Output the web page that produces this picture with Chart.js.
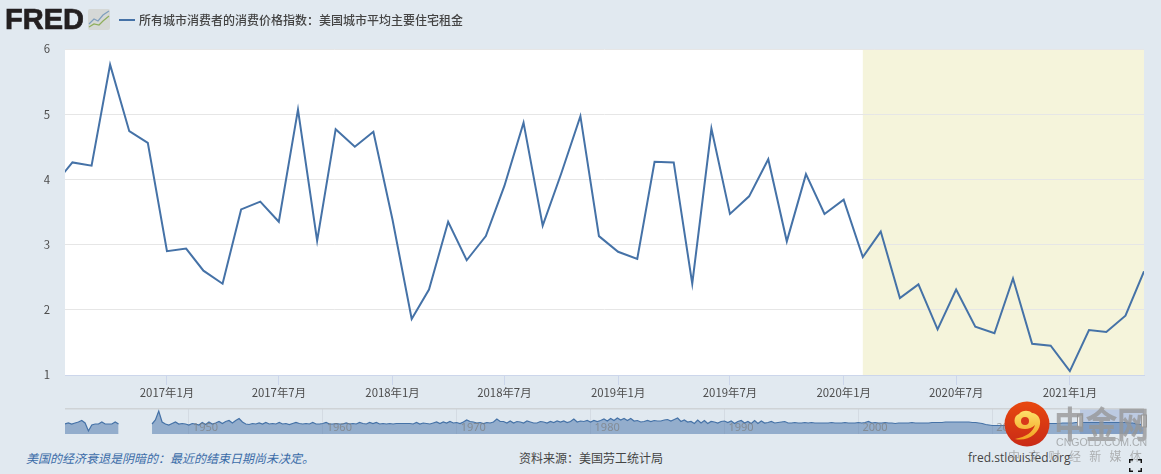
<!DOCTYPE html>
<html lang="zh">
<head>
    <meta charset="UTF-8">
    <title>所有城市消费者的消费价格指数：美国城市平均主要住宅租金</title>
    <script src="https://cdn.jsdelivr.net/npm/chart.js"></script>
    <style>
        html, body { margin: 0; padding: 0; }
        body {
            width: 1161px; height: 474px; overflow: hidden; position: relative;
            background: #e1e9f0;
            font-family: "Noto Sans CJK SC", "Noto Sans", sans-serif;
            font-size: 12px; color: #555;
        }
        canvas { position: absolute; left: 0; display: block; }
        #mainChart { top: 0; }
        #navChart { top: 405px; }
        .abs { position: absolute; white-space: nowrap; line-height: 16px; }
        .logo { left: 5px; top: 3px; font: bold 29px/33px "Liberation Sans", sans-serif; color: #231f20; -webkit-text-stroke: 0.7px #231f20; }
        .legend-key { left: 119px; top: 19px; width: 16px; height: 2px; background: #4572a7; }
        .legend-text { left: 139px; top: 12px; color: #444; font-weight: 500; }
        .recession { left: 26px; top: 450px; font-style: italic; color: #3b6ca8; }
        .source { left: 519px; top: 450px; color: #444; }
        .site { left: 968px; top: 450px; color: #444; font-family: "Open Sans", sans-serif; font-size: 12px; }
        .wm-big { left: 1054px; top: 399px; font: bold 32px/40px "Noto Sans CJK SC", sans-serif; color: rgba(150,150,150,0.78); letter-spacing: -0.5px; transform: scaleY(1.15); transform-origin: top; }
        .wm-en { left: 1056px; top: 435px; font: 10.6px/14px "Liberation Sans", sans-serif; color: #a9adb0; }
        .wm-cn { left: 1008px; top: 448px; font-size: 12px; color: rgba(150,150,150,0.7); letter-spacing: 8.3px; }
    </style>
</head>
<body>
    <canvas id="mainChart" width="1161" height="405"></canvas>
    <canvas id="navChart" width="1161" height="30"></canvas>

    <div class="abs logo">FRED</div>
    <svg class="abs" style="left:88px;top:9px" width="23" height="22">
        <rect width="22" height="21" rx="2" fill="#d5d8d6"/>
        <polyline points="1,15 6,10 10,12 15,6 21,2" fill="none" stroke="#7f9fbd" stroke-width="1.2"/>
        <polyline points="1,18 6,15 11,16 15,12 21,7" fill="none" stroke="#8fae5c" stroke-width="1.2"/>
    </svg>
    <div class="abs legend-key"></div>
    <div class="abs legend-text">所有城市消费者的消费价格指数：美国城市平均主要住宅租金</div>

    <div class="abs recession">美国的经济衰退是阴暗的：最近的结束日期尚未决定。</div>
    <div class="abs source">资料来源：美国劳工统计局</div>
    <div class="abs site">fred.stlouisfed.org</div>

    <!-- watermark -->
    <svg class="abs" style="left:1004px;top:401px" width="46" height="46">
        <defs>
            <linearGradient id="wmRed" x1="0" y1="0" x2="0" y2="1">
                <stop offset="0" stop-color="#e8480f"/>
                <stop offset="1" stop-color="#c92a17"/>
            </linearGradient>
            <linearGradient id="wmGold" x1="0" y1="0" x2="0" y2="1">
                <stop offset="0" stop-color="#fde06a"/>
                <stop offset="1" stop-color="#f3a21f"/>
            </linearGradient>
        </defs>
        <circle cx="23" cy="23" r="22.5" fill="url(#wmRed)"/>
        <path d="M11 38 C22 36 29 31 31 24 C27 28 21 29 15 27 C9 24 9 15 15 13 C18 9 25 9 28 12 C33 12 37 17 36 23 C35 32 24 41 11 38 Z" fill="url(#wmGold)"/>
        <circle cx="21" cy="20" r="4" fill="#d8391a"/>
    </svg>
    <div class="abs wm-big">中金网</div>
    <div class="abs wm-en">CNGOLD.COM.CN</div>
    <div class="abs wm-cn">中文财经新媒体</div>

    <svg class="abs" style="left:1129px;top:459px" width="13" height="13" fill="none" stroke="#111" stroke-width="1.5">
        <path d="M0.7 4V0.7H4M9 0.7H12.3V4M12.3 9V12.3H9M4 12.3H0.7V9"/>
    </svg>

    <script>
        // monthly values, first one is 2016年7月 (off the left edge, line runs in from it)
        const startYear = 2016;
        const startMonth = 6;
        const rentChange = [
            3.90, 4.26, 4.21, 5.76, 4.74, 4.56,
            2.90, 2.94, 2.60, 2.40, 3.54, 3.66, 3.35, 5.07, 3.06, 4.77, 4.50, 4.73,
            3.38, 1.86, 2.31, 3.35, 2.76, 3.13, 3.90, 4.87, 3.29, 4.09, 4.97, 3.13,
            2.89, 2.78, 4.27, 4.26, 2.40, 4.78, 3.47, 3.74, 4.31, 3.05, 4.08, 3.47,
            3.69, 2.81, 3.20, 2.18, 2.39, 1.70, 2.31, 1.74, 1.64, 2.48, 1.48, 1.45,
            1.06, 1.69, 1.66, 1.91, 2.59
        ];
        const tickMonths = ['2017-01-01', '2017-07-01', '2018-01-01', '2018-07-01', '2019-01-01', '2019-07-01', '2020-01-01', '2020-07-01', '2021-01-01'];
        const tickLabels = ['2017年1月', '2017年7月', '2018年1月', '2018年7月', '2019年1月', '2019年7月', '2020年1月', '2020年7月', '2021年1月'];
        const viewStart = '2016-07-20';
        const viewEnd = '2021-05-01';
        const recessionStart = '2020-02-01';

        // overview strip, one value per quarter from 1940.75 (px-ish height)
        const navStart = 1940.75;
        const navEnd = 2021.33;
        const navDecades = [1950, 1960, 1970, 1980, 1990, 2000, 2010];
        const navValues = [
            10, 11, 10, 11, 12, 13.5, 11, 3, 9, 10, 10, 12, 10, 10, 10, 12, 10,
            null, null, null, null, null, null, null, null, null,
            10, 14, 23, 12, 10, 9, 10.5, 12, 10, 10.5, 10, 9, 10.5, 10, 9, 11.5, 9.5, 12, 10, 11,
            12.5, 10.5, 12.5, 13.5, 11, 13.5, 15.5, 12, 10, 9.5, 10.5, 10, 11, 10, 11.5, 10, 10.5, 10, 11.5, 10,
            10.5, 9.5, 10.5, 11.5, 10.5, 10, 10.5, 10, 11.5, 10, 10, 10.5, 11.5, 10, 10, 10.5, 10, 10, 11, 10,
            10.5, 10, 11.5, 10.5, 10, 11.5, 10.5, 11.5, 10, 10.5, 10, 10.5, 10, 10.5, 10.5, 10.5, 10.5, 10.5, 10, 11.5,
            10, 11, 10.5, 10, 11, 12, 10.5, 12, 11, 12.5, 11, 11.5, 10.5, 12, 14, 12.5, 12, 11, 11.5, 10.5,
            11.5, 11, 12, 15, 12.5, 12.5, 11, 13, 11, 12.5, 12, 11, 13, 12, 11, 11, 12.5, 12, 11, 12.5,
            11.5, 13, 12, 13, 11.5, 12.5, 15, 12, 13, 12.5, 13.5, 12, 13.5, 12.5, 13.5, 15, 13, 15.5, 13.5, 16,
            14, 15.5, 13.5, 15.5, 13, 13.5, 12, 12.5, 13.5, 12.5, 13.5, 13, 13, 14, 14.5, 13, 14.5, 16, 12.5, 14,
            12, 12.5, 10.5, 14, 11, 13.5, 10.5, 12.5, 12, 11, 12.5, 13, 11.5, 13, 10.5, 12.5, 13.5, 11, 12.5, 10.5,
            13.5, 10.5, 13, 11, 11.5, 12.5, 11, 11.5, 12, 12.5, 11, 11, 11.5, 11, 11, 11.5, 11, 11.5, 11, 11,
            11, 11, 11, 11.5, 11, 11, 11, 11.5, 11, 11, 11, 11.5, 11, 11.5, 12.5, 11, 11.5, 11, 11, 11.5,
            11, 11, 10.5, 11, 11, 11, 11, 11.5, 11, 11, 11, 11, 11, 11.5, 11.5, 11.5, 11.5, 12, 12, 12,
            12, 12, 12, 12, 12, 11.5, 11.5, 11, 10.5, 9.5, 9, 8.5, 8.5, 8.5, 8.5, 8.5, 9, 9, 9.5, 9.5,
            10, 10, 10, 10, 10, 10, 10, 10.5, 10.5, 10.5, 10.5, 10.5, 11, 11, 11, 11, 11.5, 11.5, 11.5, 11.5,
            11.5, 11.5, 11.5, 11.5, 11.5, 11.5, 11.5, 11.5, 11.5, 11.5, 11.5, 11.5, 11, 11, 10, 9.5, 10
        ];

        const lineColor = '#4572a7';
        const tickFont = { family: '"Noto Sans CJK SC", "Noto Sans", sans-serif', size: 11.4 };

        const time = s => Date.parse(s);
        const tickValues = tickMonths.map(time);

        // white plot area and the shaded recession, under the grid lines
        const plotBackground = {
            id: 'plotBackground',
            beforeDraw(chart) {
                const { ctx, chartArea: a, scales } = chart;
                const from = scales.x.getPixelForValue(time(recessionStart));
                ctx.save();
                ctx.fillStyle = '#ffffff';
                ctx.fillRect(a.left, a.top, a.width, a.height);
                ctx.fillStyle = '#f5f4db';
                ctx.fillRect(from, a.top, a.right - from, a.height);
                ctx.restore();
            }
        };

        new Chart(document.getElementById('mainChart'), {
            type: 'line',
            data: {
                datasets: [{
                    data: rentChange.map((v, i) => ({ x: Date.UTC(startYear, startMonth + i, 1), y: v })),
                    borderColor: lineColor,
                    borderWidth: 2,
                    pointRadius: 0,
                    tension: 0
                }]
            },
            options: {
                responsive: false,
                animation: false,
                layout: { padding: { left: 0, right: 17, top: 49, bottom: 0 } },
                plugins: { legend: { display: false }, tooltip: { enabled: false } },
                scales: {
                    x: {
                        type: 'linear',
                        min: time(viewStart),
                        max: time(viewEnd),
                        afterBuildTicks: axis => { axis.ticks = tickValues.map(v => ({ value: v })); },
                        afterFit: axis => { axis.height = 30; },
                        border: { color: '#ccd6eb' },
                        grid: { drawOnChartArea: false, drawTicks: true, tickLength: 10, tickColor: '#ccd6eb' },
                        ticks: {
                            autoSkip: false, maxRotation: 0, padding: 1, color: '#4d4d4d', font: tickFont,
                            callback: v => tickLabels[tickValues.indexOf(v)]
                        }
                    },
                    y: {
                        min: 1,
                        max: 6,
                        afterFit: axis => { axis.width = 65; },
                        border: { display: false },
                        grid: { color: '#e6e6e6', drawTicks: false },
                        ticks: { stepSize: 1, padding: 15, color: '#4d4d4d', font: tickFont }
                    }
                }
            },
            plugins: [plotBackground]
        });

        // selected window, top rule and decade labels on the overview strip
        const navDecor = {
            id: 'navDecor',
            beforeDraw(chart) {
                const { ctx, chartArea: a, scales } = chart;
                const from = scales.x.getPixelForValue(2016 + 6.6 / 12);
                ctx.save();
                ctx.fillStyle = 'rgba(102,133,194,0.3)';
                ctx.fillRect(from, a.top, a.right - from, a.height);
                ctx.fillStyle = '#cfd3d6';
                ctx.fillRect(a.left, a.top - 1, a.width, 1.5);
                ctx.restore();
            },
            afterDatasetsDraw(chart) {
                const { ctx, chartArea: a, scales } = chart;
                ctx.save();
                ctx.font = '11px "Noto Sans", sans-serif';
                ctx.fillStyle = 'rgba(125,125,125,0.7)';
                ctx.textBaseline = 'alphabetic';
                navDecades.forEach(y => ctx.fillText(String(y), scales.x.getPixelForValue(y) + 4, a.bottom - 3));
                const from = scales.x.getPixelForValue(2016 + 6.6 / 12);
                [from, a.right].forEach(x => {
                    ctx.fillStyle = '#f2f2f2';
                    ctx.strokeStyle = '#999';
                    ctx.lineWidth = 1;
                    ctx.fillRect(x - 2.5, a.top + 6, 5, 12);
                    ctx.strokeRect(x - 2.5, a.top + 6, 5, 12);
                });
                ctx.restore();
            }
        };

        new Chart(document.getElementById('navChart'), {
            type: 'line',
            data: {
                datasets: [{
                    data: navValues.map((v, i) => ({ x: navStart + i * 0.25, y: v })),
                    borderColor: lineColor,
                    borderWidth: 1.2,
                    backgroundColor: 'rgba(69,114,167,0.5)',
                    fill: 'origin',
                    pointRadius: 0,
                    tension: 0
                }]
            },
            options: {
                responsive: false,
                animation: false,
                layout: { padding: { left: 65, right: 17, top: 4, bottom: 1 } },
                plugins: { legend: { display: false }, tooltip: { enabled: false } },
                scales: {
                    x: {
                        type: 'linear',
                        min: navStart,
                        max: navEnd,
                        afterBuildTicks: axis => { axis.ticks = navDecades.map(v => ({ value: v })); },
                        afterFit: axis => { axis.height = 0; },
                        border: { display: false },
                        grid: { color: 'rgba(200,206,214,0.5)', drawTicks: false },
                        ticks: { display: false }
                    },
                    y: { display: false, min: 0, max: 25 }
                }
            },
            plugins: [navDecor]
        });
    </script>
</body>
</html>
